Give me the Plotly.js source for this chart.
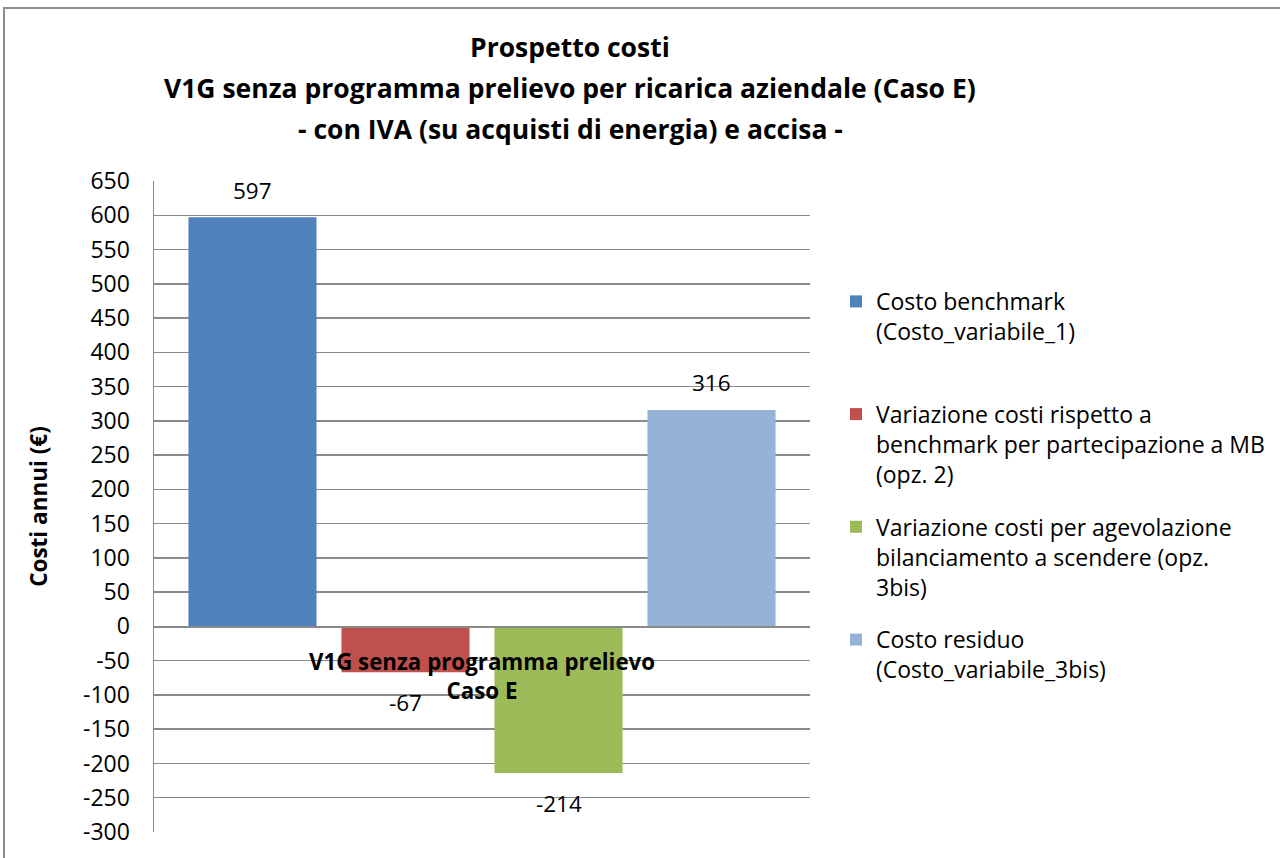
<!DOCTYPE html>
<html>
<head>
<meta charset="utf-8">
<script src="https://cdn.plot.ly/plotly-3.0.1.min.js"></script>
<style>
  html, body { margin: 0; padding: 0; background: #fff; }
  #chart { width: 1280px; height: 858px; position: absolute; left: 0; top: 0; }
  #frame { position: absolute; left: 3px; top: 7px; width: 1400px; height: 1000px;
           border: 2px solid #8c8c8c; pointer-events: none; }
</style>
</head>
<body>
<div id="chart"></div>
<div id="frame"></div>
<script>
// ---- data ----
const categories = ["V1G senza programma prelievo<br>Caso E"];
const seriesNames = [
  "Costo benchmark<br>(Costo_variabile_1)",
  "Variazione costi rispetto a<br>benchmark per partecipazione a MB<br>(opz. 2)",
  "Variazione costi per agevolazione<br>bilanciamento a scendere (opz.<br>3bis)",
  "Costo residuo<br>(Costo_variabile_3bis)"
];
const costoBenchmark = [597];
const variazioneMB = [-67];
const variazioneBilanciamento = [-214];
const costoResiduo = [316];
const seriesValues = [costoBenchmark, variazioneMB, variazioneBilanciamento, costoResiduo];
const seriesColors = ["#4F81BD", "#C0504D", "#9BBB59", "#95B3D7"];
const titleLines = [
  "Prospetto costi",
  "V1G senza programma prelievo per ricarica aziendale (Caso E)",
  "- con IVA (su acquisti di energia) e accisa -"
];
const yTitle = "Costi annui (€)";
const yRange = [-300, 650];
const yTickVals = [650, 600, 550, 500, 450, 400, 350, 300, 250, 200, 150, 100, 50, 0,
                   -50, -100, -150, -200, -250, -300];
const yTickText = yTickVals.map(v => String(v));

// ---- chart ----
const FONT = "'Open Sans', sans-serif";
const BARGAP = 0.067, BARGROUPGAP = 0.163;
const nSeries = seriesValues.length;
const maxLines = Math.max(...seriesNames.map(n => n.split("<br>").length));

const traces = seriesValues.map((vals, i) => {
  const lines = seriesNames[i].split("<br>").length;
  return {
    type: "bar",
    name: seriesNames[i] + "<br> ".repeat(maxLines - lines),
    x: categories,
    y: vals,
    legendgroup: "g" + i,
    marker: { color: seriesColors[i] },
    textposition: "none",
    hoverinfo: "name+y"
  };
});

// data labels (Excel "outside end"), placed at each bar's end via the axis scales
const slot = (1 - BARGAP) / nSeries;
const labelAnnotations = [];
seriesValues.forEach((vals, i) => {
  vals.forEach((v, c) => {
    labelAnnotations.push({
      xref: "x", yref: "y",
      x: c + (i - (nSeries - 1) / 2) * slot,
      y: v,
      text: String(v),
      showarrow: false,
      xanchor: "center", yanchor: "middle",
      yshift: v >= 0 ? 27 : -30,
      font: { family: FONT, size: 22.5, color: "#000" }
    });
  });
});

const plotLeft = 154, plotRight = 810, plotTop = 181, plotBottom = 832;
const pw = plotRight - plotLeft, ph = plotBottom - plotTop;
const titleY = [47, 88, 129];
const titleAnnotations = titleLines.map((t, i) => ({
  text: "<b>" + t + "</b>",
  xref: "paper", yref: "paper",
  x: (570 - plotLeft) / pw,
  y: (plotBottom - titleY[i]) / ph,
  xanchor: "center", yanchor: "middle",
  showarrow: false,
  font: { family: FONT, size: 26.5, color: "#000" }
}));

const layout = {
  width: 1280, height: 858,
  margin: { l: plotLeft, r: 1280 - plotRight, t: plotTop, b: 858 - plotBottom, pad: 0, autoexpand: false },
  paper_bgcolor: "#fff", plot_bgcolor: "#fff",
  barmode: "group",
  bargap: BARGAP,
  bargroupgap: BARGROUPGAP,
  showlegend: true,
  legend: {
    x: (836 - plotLeft) / pw, y: 0.848, xanchor: "left", yanchor: "top",
    font: { family: FONT, size: 23, color: "#000" },
    tracegroupgap: 20,
    traceorder: "grouped",
    valign: "top",
    bgcolor: "rgba(0,0,0,0)"
  },
  xaxis: {
    type: "category",
    anchor: "free",
    position: (0 - yRange[0]) / (yRange[1] - yRange[0]),
    showline: true, linecolor: "#8a8a8a", linewidth: 1.5,
    showgrid: false, ticks: "",
    tickfont: { family: FONT, size: 22.3, color: "#000", weight: "bold" },
    ticklabelstandoff: 15,
    fixedrange: true
  },
  yaxis: {
    range: yRange,
    tickmode: "array", tickvals: yTickVals, ticktext: yTickText,
    showgrid: true, gridcolor: "#8a8a8a", gridwidth: 1.5,
    zeroline: true, zerolinecolor: "#8a8a8a", zerolinewidth: 1.5,
    showline: true, linecolor: "#8a8a8a", linewidth: 1.5,
    ticks: "",
    ticklabelstandoff: 18,
    tickfont: { family: FONT, size: 23, color: "#000" },
    title: { text: "<b>" + yTitle + "</b>", font: { family: FONT, size: 22.5, color: "#000" }, standoff: 29 },
    fixedrange: true
  },
  annotations: titleAnnotations.concat(labelAnnotations)
};

Plotly.newPlot("chart", traces, layout, { displayModeBar: false, staticPlot: true });
</script>
</body>
</html>
